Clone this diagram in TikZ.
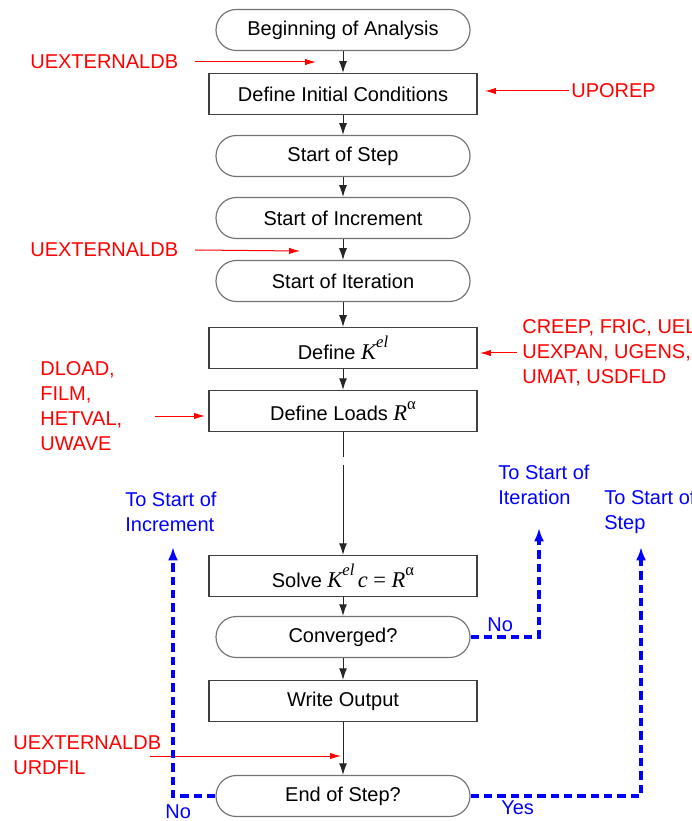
\documentclass[tikz,border=0pt]{standalone}
\usepackage{fontspec}
\setmainfont{Liberation Sans}
\newfontfamily\symfont{Liberation Serif}
\usetikzlibrary{arrows.meta}

\newcommand{\mvar}[1]{{\symfont\itshape\fontsize{13.5}{15}\selectfont #1}}
\newcommand{\msup}[1]{\raisebox{1.1ex}{\symfont\fontsize{10}{10}\selectfont #1}}

\tikzset{
  flowbox/.style={draw=black!75, line width=0.7pt, minimum width=160.8pt,
    minimum height=24.6pt, inner sep=0pt},
  flowend/.style={flowbox, draw=black!55, rounded corners=12.2pt,
    minimum width=152.4pt},
  flowline/.style={draw=black!85, line width=0.6pt, -{Latex[length=7pt,width=4.8pt]}},
  calltext/.style={red, align=left, anchor=west, inner sep=0pt},
  callarrow/.style={red, line width=0.6pt, -{Latex[length=6.5pt,width=3.8pt]}},
  looptext/.style={blue, align=left, anchor=west, inner sep=0pt},
  loopline/.style={blue, line width=2pt, dash pattern=on 5pt off 3pt,
    -{Latex[length=8pt,width=6pt]}},
}

\begin{document}
\begin{tikzpicture}[x=0.6pt, y=-0.6pt, font=\fontsize{12}{15}\selectfont]
  \useasboundingbox (0,0) rectangle (691,821);

  \node[flowend] (begin)  at (343,30)  {Beginning of Analysis};
  \node[flowbox] (init)   at (343,94)  {Define Initial Conditions};
  \node[flowend] (step)   at (343,156) {Start of Step};
  \node[flowend] (incr)   at (343,218) {Start of Increment};
  \node[flowend] (iter)   at (343,281) {Start of Iteration};
  \node[flowbox] (kel)    at (343,348) {Define \mvar{K}\msup{\itshape el}};
  \node[flowbox] (loads)  at (343,411) {Define Loads \mvar{R}\msup{α}};
  \node[flowbox] (solve)  at (343,576) {Solve \mvar{K}\msup{\itshape el}\,\mvar{c}\ {\symfont\fontsize{13.5}{15}\selectfont =}\ \mvar{R}\msup{α}};
  \node[flowend] (conv)   at (343,637) {Converged?};
  \node[flowbox] (output) at (343,701) {Write Output};
  \node[flowend] (eos)    at (343,796) {End of Step?};

  \foreach \a/\b in {begin/init, init/step, step/incr, incr/iter, iter/kel,
                     kel/loads, solve/conv, conv/output, output/eos}
    \draw[flowline] (\a) -- (\b);
  \coordinate (gapa) at (343,457);
  \coordinate (gapb) at (343,465);
  \draw[draw=black!85, line width=0.6pt] (loads) -- (gapa);
  \draw[flowline] (gapb) -- (solve);

  % user subroutines
  \node[calltext] (db1) at (30,62) {UEXTERNALDB};
  \coordinate (db1tip) at (316,62);
  \draw[callarrow] ([xshift=10pt]db1.east) -- (db1tip);

  \node[calltext] (porep) at (571,91) {UPOREP};
  \coordinate (poreptip) at (485,91);
  \draw[callarrow] ([xshift=-1pt]porep.west) -- (poreptip);

  \node[calltext] (db2) at (30,250) {UEXTERNALDB};
  \coordinate (db2tip) at (300,251);
  \draw[callarrow] ([xshift=10pt]db2.east) -- (db2tip);

  \node[calltext] (mat) at (522,353) {CREEP, FRIC, UEL,\\UEXPAN, UGENS,\\UMAT, USDFLD};
  \coordinate (mattip) at (480,353);
  \draw[callarrow] ([xshift=-3pt]mat.west) -- (mattip);

  \node[calltext] (load) at (40,406) {DLOAD,\\FILM,\\HETVAL,\\UWAVE};
  \coordinate (loadtail) at (155,416);
  \coordinate (loadtip) at (205,416);
  \draw[callarrow] (loadtail) -- (loadtip);

  \node[calltext] (db3) at (13,755) {UEXTERNALDB\\URDFIL};
  \coordinate (db3tail) at (150,756);
  \coordinate (db3tip) at (341,756);
  \draw[callarrow] (db3tail) -- (db3tip);

  % loops back
  \node[looptext] (toincr) at (125,512) {To Start of\\Increment};
  \node[looptext] (toiter) at (498,485) {To Start of\\Iteration};
  \node[looptext] (tostep) at (604,512) {To Start of\\Step};
  \coordinate (incrtip) at (173,547);
  \coordinate (itertip) at (539,528);
  \coordinate (steptip) at (641,547);
  \draw[loopline] (eos.west) -| (incrtip);
  \draw[loopline] (conv.east) -| (itertip);
  \draw[loopline] (eos.east) -| (steptip);
  \node[looptext] (no1) at (487,625) {No};
  \node[looptext] (no2) at (165,812) {No};
  \node[looptext] (yes) at (501,808) {Yes};
\end{tikzpicture}
\end{document}
